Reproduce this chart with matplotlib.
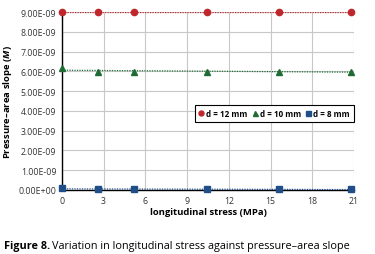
import numpy as np
import matplotlib
matplotlib.use('Agg')
import matplotlib.pyplot as plt

plt.rcParams['font.family'] = ['Open Sans', 'DejaVu Sans']
plt.rcParams['mathtext.fontset'] = 'custom'
plt.rcParams['mathtext.it'] = 'Open Sans:italic:bold'

stress = [0, 2.6, 5.2, 10.4, 15.6, 20.8]
slope_12 = [9.0e-9, 9.0e-9, 9.0e-9, 9.0e-9, 9.0e-9, 9.0e-9]
slope_10 = [6.15e-9, 5.98e-9, 5.99e-9, 5.99e-9, 5.99e-9, 5.98e-9]
slope_8 = [0.08e-9, 0.04e-9, 0.04e-9, 0.03e-9, 0.03e-9, 0.03e-9]

ylabels = ['0.00E+00'] + ['{:.2f}E-09'.format(v) for v in range(1, 10)]

series = [
    ('d = 12 mm', slope_12, 'o', '#c0272d'),
    ('d = 10 mm', slope_10, '^', '#1e6b34'),
    ('d = 8 mm', slope_8, 's', '#1f4e89'),
]

fig = plt.figure(figsize=(3.75, 2.55), dpi=100)
ax = fig.add_axes([0.165, 0.251, 0.779, 0.698])

x = np.array(stress)
for nome, y, m, c in series:
    ax.plot(x, y, linestyle='none', marker=m, color=c, markersize=4.5,
            label=nome, clip_on=False, zorder=4)
    # linha de tendencia
    a, b = np.polyfit(x, y, 1)
    xs = np.array([0, 21])
    ax.plot(xs, a * xs + b, linestyle=(0, (1, 1)), color=c, linewidth=0.9,
            zorder=3)

ax.set_xlim(0, 21)
ax.set_ylim(0, 9e-9)
ax.set_xticks(range(0, 22, 3))
ax.set_yticks(np.arange(0, 9.5e-9, 1e-9))
ax.set_yticklabels(ylabels)
ax.tick_params(labelsize=6.3, length=0, colors='#333333', pad=4)
ax.grid(True, color='#c8c8c8', linewidth=0.8)
ax.set_axisbelow(True)
for s in ['top', 'right']:
    ax.spines[s].set_visible(False)
for s in ['left', 'bottom']:
    ax.spines[s].set_linewidth(1.0)
    ax.spines[s].set_color('black')

ax.set_xlabel('longitudinal stress (MPa)', fontsize=6.8, fontweight='bold',
              labelpad=2)
ax.set_ylabel(r'Pressure–area slope ($\mathit{M}$)', fontsize=6.8,
              fontweight='bold', labelpad=3)

leg = ax.legend(loc='upper left', bbox_to_anchor=(0.455, 0.475), ncol=3,
                frameon=True, fancybox=False, handlelength=0.7,
                handletextpad=0.3, columnspacing=0.5, borderpad=0.45,
                borderaxespad=0, markerscale=0.8,
                prop={'weight': 'bold', 'size': 5.8})
leg.get_frame().set_edgecolor('black')
leg.get_frame().set_linewidth(0.8)
leg.get_frame().set_alpha(1)

t1 = fig.text(0.012, 0.025, 'Figure 8.', fontsize=7.8, fontweight='bold')
fig.canvas.draw()
bb = t1.get_window_extent()
x2 = bb.x1 / fig.bbox.width + 0.003
fig.text(x2, 0.025, 'Variation in longitudinal stress against pressure–area slope',
         fontsize=7.8)

plt.savefig('out.png', dpi=100)
